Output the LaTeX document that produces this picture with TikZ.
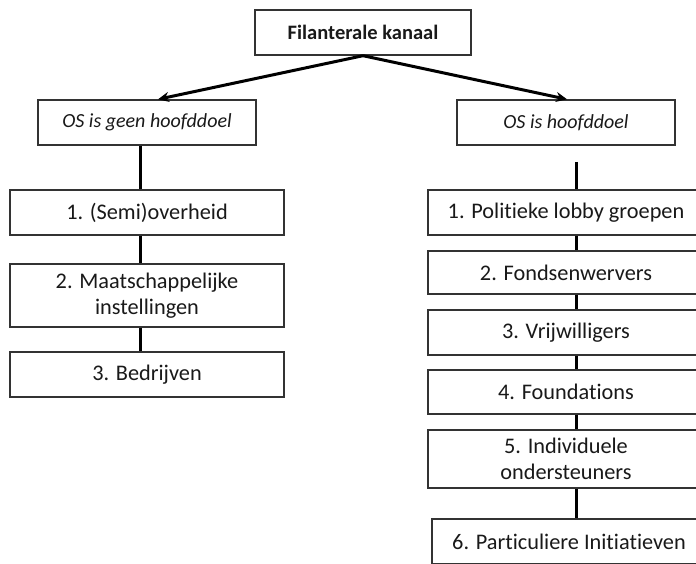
\documentclass[tikz,border=0pt]{standalone}
\usepackage{fontspec}
\setmainfont{Carlito}[Ligatures=NoCommon]
\usetikzlibrary{arrows.meta}
\tikzset{
  box/.style={draw=black!80, line width=1.4pt, fill=white, align=center, inner sep=0pt,
    font=\fontsize{22.3}{25.5}\selectfont, text=black!90},
  conn/.style={line width=3pt, black},
  arr/.style={line width=3pt, black, -{Stealth[length=11pt,width=10pt]}}
}
\begin{document}
\begin{tikzpicture}[x=1pt,y=-1pt]
\useasboundingbox (0,0) rectangle (696,564);
\clip (0,0) rectangle (696,564);
\fill[white] (0,0) rectangle (696,564);
% top
\node[box, minimum width=216pt, minimum height=45pt, font=\fontsize{20.5}{25}\selectfont\bfseries] (top) at (363,32.5) {Filanterale kanaal};
% level 2
\node[box, minimum width=218pt, minimum height=45pt, font=\fontsize{20}{25}\selectfont\itshape] (los) at (147,122.5) {OS is geen hoofddoel};
\node[box, minimum width=218pt, minimum height=45pt, font=\fontsize{20}{25}\selectfont\itshape] (ros) at (566,122.5) {OS is hoofddoel};
% left column
\node[box, minimum width=274pt, minimum height=45pt] (l1) at (147,212.5) {1. (Semi)overheid};
\node[box, minimum width=274pt, minimum height=63pt] (l2) at (147,295.5) {2. Maatschappelijke\\instellingen};
\node[box, minimum width=274pt, minimum height=45pt] (l3) at (147,374.5) {3. Bedrijven};
% right column
\node[box, minimum width=276pt, minimum height=45pt] (r1) at (566,212.5) {1. Politieke lobby groepen};
\node[box, minimum width=276pt, minimum height=43pt] (r2) at (566,272.5) {2. Fondsenwervers};
\node[box, minimum width=276pt, minimum height=45pt] (r3) at (566,332.5) {3. Vrijwilligers};
\node[box, minimum width=276pt, minimum height=44pt] (r4) at (566,392) {4. Foundations};
\node[box, minimum width=276pt, minimum height=58pt] (r5) at (566,459) {5. Individuele\\ondersteuners};
\node[box, minimum width=274pt, minimum height=45pt] (r6) at (569,541.5) {6. Particuliere Initiatieven};
\coordinate (rfree) at (576,162);
% arrows
\draw[arr] (top.south) -- (los.north -| 158,0);
\draw[arr] (top.south) -- (ros.north -| 567,0);
% left connectors
\draw[conn] (los.south -| 140,0) -- (l1.north -| 140,0);
\draw[conn] (l1.south -| 140,0) -- (l2.north -| 140,0);
\draw[conn] (l2.south -| 140,0) -- (l3.north -| 140,0);
% right connectors
\draw[conn] (rfree) -- (r1.north -| rfree);
\draw[conn] (r1.south -| rfree) -- (r2.north -| rfree);
\draw[conn] (r2.south -| rfree) -- (r3.north -| rfree);
\draw[conn] (r3.south -| rfree) -- (r4.north -| rfree);
\draw[conn] (r4.south -| rfree) -- (r5.north -| rfree);
\draw[conn] (r5.south -| rfree) -- (r6.north -| rfree);
\end{tikzpicture}
\end{document}
